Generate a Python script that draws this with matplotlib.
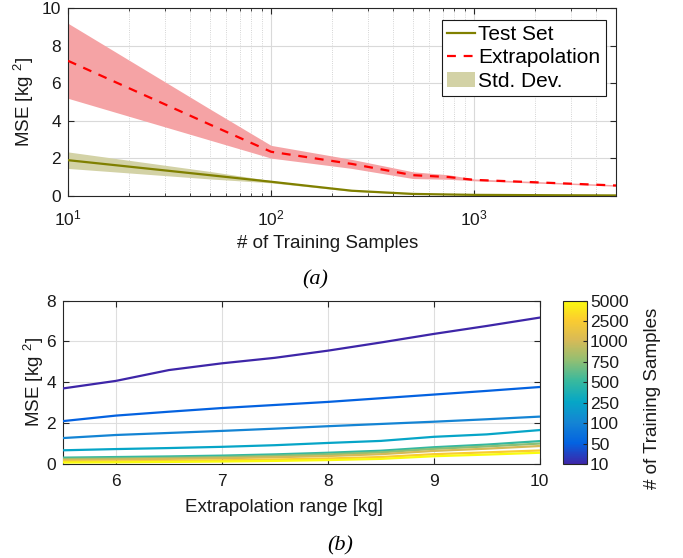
import numpy as np
import matplotlib
matplotlib.use('Agg')
import matplotlib.pyplot as plt
from matplotlib.colors import LinearSegmentedColormap, Normalize
from matplotlib.lines import Line2D
from matplotlib.patches import Patch
from matplotlib.ticker import LogLocator, NullFormatter

plt.rcParams['font.family'] = ['Liberation Sans', 'DejaVu Sans']
plt.rcParams['mathtext.fontset'] = 'custom'
plt.rcParams['mathtext.rm'] = 'Liberation Sans'
plt.rcParams['mathtext.it'] = 'Liberation Sans:italic'

# ---- data (a) ----
samples = [10, 50, 100, 250, 500, 750, 1000, 2500, 5000]
test_mse = [1.9, 1.1, 0.75, 0.27, 0.1, 0.07, 0.05, 0.03, 0.02]
test_std = [0.44, 0.2, 0.06, 0.03, 0.02, 0.01, 0.01, 0.01, 0.01]
ext_mse = [7.2, 3.8, 2.35, 1.7, 1.1, 1.0, 0.85, 0.68, 0.55]
ext_std = [2.0, 0.83, 0.34, 0.24, 0.18, 0.12, 0.05, 0.04, 0.04]

# ---- data (b) ----
ext_range = [5.5, 6.0, 6.5, 7.0, 7.5, 8.0, 8.5, 9.0, 9.5, 10.0]
mse_10 = [3.7, 4.07, 4.6, 4.93, 5.2, 5.55, 5.95, 6.37, 6.76, 7.17]
mse_50 = [2.1, 2.37, 2.56, 2.74, 2.89, 3.04, 3.22, 3.4, 3.58, 3.77]
mse_100 = [1.27, 1.42, 1.52, 1.62, 1.73, 1.85, 1.96, 2.07, 2.19, 2.32]
mse_250 = [0.67, 0.73, 0.78, 0.84, 0.92, 1.03, 1.13, 1.33, 1.45, 1.66]
mse_500 = [0.31, 0.34, 0.37, 0.41, 0.47, 0.55, 0.65, 0.82, 0.95, 1.12]
mse_750 = [0.25, 0.27, 0.3, 0.34, 0.4, 0.47, 0.57, 0.74, 0.86, 1.0]
mse_1000 = [0.2, 0.22, 0.25, 0.28, 0.33, 0.39, 0.48, 0.64, 0.75, 0.88]
mse_2500 = [0.12, 0.13, 0.15, 0.18, 0.22, 0.27, 0.34, 0.48, 0.57, 0.66]
mse_5000 = [0.07, 0.08, 0.1, 0.12, 0.15, 0.19, 0.25, 0.38, 0.46, 0.55]
range_curves = [mse_10, mse_50, mse_100, mse_250, mse_500,
                mse_750, mse_1000, mse_2500, mse_5000]
cbar_labels = ['10', '50', '100', '250', '500', '750', '1000', '2500', '5000']

# rough parula
parula = LinearSegmentedColormap.from_list('parula', [
    (0.0, (0.2422, 0.1504, 0.6603)),
    (0.127, (0.0117, 0.3875, 0.8820)),
    (0.254, (0.0793, 0.5200, 0.8312)),
    (0.381, (0.0228, 0.6535, 0.7768)),
    (0.508, (0.2178, 0.7250, 0.6193)),
    (0.635, (0.5709, 0.7485, 0.4494)),
    (0.762, (0.8507, 0.7299, 0.3360)),
    (0.889, (0.9880, 0.8066, 0.1794)),
    (1.0, (0.9763, 0.9831, 0.0538)),
])

axcol = '0.15'
olive = '#808000'
olive_band = '#d3d2a6'
red_band = '#f5a3a5'
TICK = 12.5
LAB = 13.5

fig = plt.figure(figsize=(6.83, 5.58), dpi=100)


def style(ax):
    for s in ax.spines.values():
        s.set_color(axcol)
        s.set_linewidth(0.8)
    ax.tick_params(which='both', direction='in', top=True, right=True,
                   colors=axcol, labelcolor='0.1', labelsize=TICK)
    ax.tick_params(which='major', length=4)
    ax.tick_params(which='minor', length=2.5)
    ax.tick_params(axis='y', pad=5)


# ---------- (a) ----------
ax1 = fig.add_axes([0.0996, 0.6491, 0.8023, 0.3360])
x = np.array(samples)
tm, ts = np.array(test_mse), np.array(test_std)
em, es = np.array(ext_mse), np.array(ext_std)
ax1.fill_between(x, em - es, em + es, color=red_band, lw=0, zorder=2)
ax1.fill_between(x, tm - ts, tm + ts, color=olive_band, lw=0, zorder=2)
ax1.plot(x, tm, color=olive, lw=1.6, zorder=3)
ax1.plot(x, em, color='red', lw=1.6, ls=(0, (4, 3.5)), zorder=4)
ax1.set_xscale('log')
ax1.set_xlim(10, 5000)
ax1.set_ylim(0, 10)
ax1.set_yticks([0, 2, 4, 6, 8, 10])
ax1.xaxis.set_minor_locator(LogLocator(base=10, subs=np.arange(2, 10)))
ax1.xaxis.set_minor_formatter(NullFormatter())
ax1.grid(True, which='major', color='0.85', lw=0.8, zorder=0)
ax1.grid(True, which='minor', axis='x', color='0.78', lw=0.6, ls=':', zorder=0)
ax1.set_axisbelow(True)
style(ax1)
ax1.tick_params(axis='x', pad=9)
ax1.set_xlabel('# of Training Samples', fontsize=LAB, color='0.1')
ax1.xaxis.set_label_coords(0.474, -0.21)
ax1.set_ylabel('MSE [kg $^{2}$]', fontsize=LAB, color='0.1')
ax1.yaxis.set_label_coords(-0.058, 0.5)

handles = [Line2D([], [], color=olive, lw=1.6),
           Line2D([], [], color='red', lw=1.6, ls=(0, (4, 3.5))),
           Patch(facecolor=olive_band, edgecolor='none')]
leg = ax1.legend(handles, ['Test Set', 'Extrapolation', 'Std. Dev.'],
                 loc='upper right', bbox_to_anchor=(0.981, 0.9376),
                 borderaxespad=0, fontsize=15, fancybox=False,
                 handlelength=1.35, handletextpad=0.15, labelspacing=0.2,
                 borderpad=0.25, framealpha=1)
leg.get_frame().set_edgecolor('0.1')
leg.get_frame().set_linewidth(0.8)

fig.text(0.461, 0.498, '(a)', fontsize=16, style='italic',
         family='Liberation Serif', ha='center', va='center')

# ---------- (b) ----------
ax2 = fig.add_axes([0.0922, 0.1685, 0.6980, 0.2927])
norm = Normalize(0, len(range_curves) - 1)
for i, curve in enumerate(range_curves):
    ax2.plot(ext_range, curve, color=parula(norm(i)), lw=1.6, zorder=3 + i)
ax2.set_xlim(5.5, 10)
ax2.set_ylim(0, 8)
ax2.set_xticks([6, 7, 8, 9, 10])
ax2.set_yticks([0, 2, 4, 6, 8])
ax2.grid(True, color='0.87', lw=0.8)
ax2.set_axisbelow(True)
style(ax2)
ax2.tick_params(axis='x', pad=7)
ax2.set_xlabel('Extrapolation range [kg]', fontsize=LAB, color='0.1')
ax2.xaxis.set_label_coords(0.463, -0.215)
ax2.set_ylabel('MSE [kg $^{2}$]', fontsize=LAB, color='0.1')
ax2.yaxis.set_label_coords(-0.035, 0.5)

cax = fig.add_axes([0.8239, 0.1685, 0.0360, 0.2927])
sm = plt.cm.ScalarMappable(norm=norm, cmap=parula)
cb = fig.colorbar(sm, cax=cax, ticks=range(len(cbar_labels)))
cb.ax.set_yticklabels(cbar_labels)
cb.ax.tick_params(direction='in', length=3, colors=axcol, labelcolor='0.1',
                  labelsize=TICK, pad=2)
cb.outline.set_edgecolor(axcol)
cb.outline.set_linewidth(0.8)
cb.set_label('# of Training Samples', fontsize=LAB, color='0.1')
cb.ax.yaxis.set_label_coords(3.3, 0.404)

fig.text(0.498, 0.022, '(b)', fontsize=16, style='italic',
         family='Liberation Serif', ha='center', va='center')

fig.savefig('out.png', dpi=100)
